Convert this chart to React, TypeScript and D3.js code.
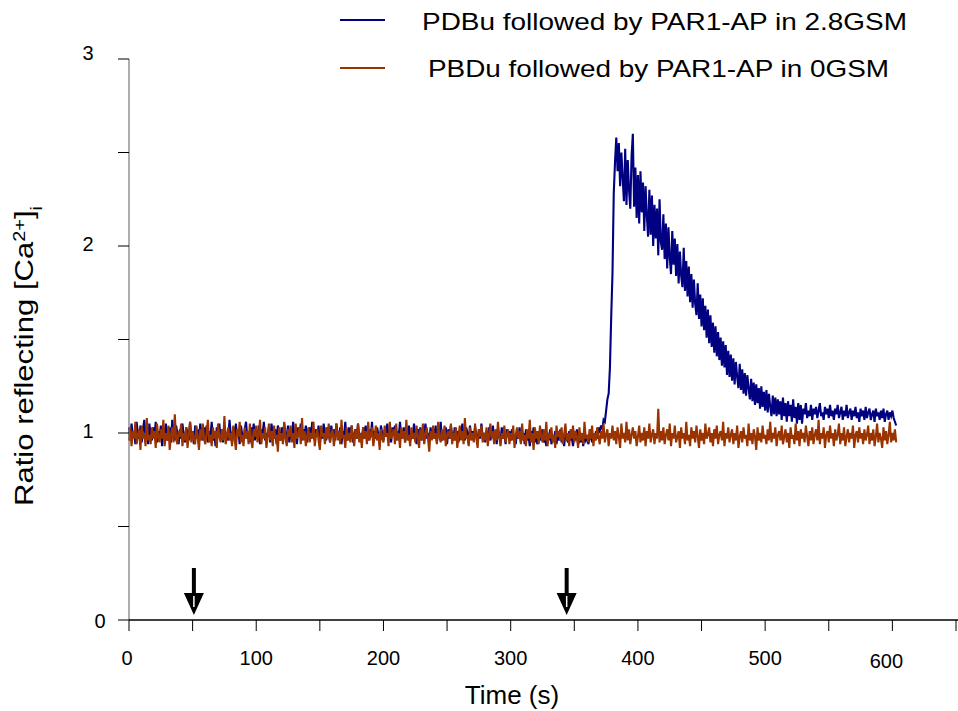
import React from "react";
import * as d3 from "d3";

const STEP = 1; // seconds between samples
const blueValues: number[] = [
  1.03,0.96,1.05,0.98,1.01,0.94,1.06,0.99,0.97,1.04,0.95,1.02,1.07,0.97,1.00,0.94,1.05,0.99,0.96,1.03,
  0.98,1.06,0.95,1.01,0.97,1.04,0.93,1.02,0.99,1.05,0.96,1.00,1.03,0.95,1.07,0.98,0.96,1.04,1.00,0.94,
  1.02,0.97,1.05,0.99,0.95,1.03,1.00,0.96,1.06,0.98,1.01,0.94,1.04,0.97,1.02,0.95,1.05,0.99,0.96,1.03,
  0.97,1.04,0.95,1.01,0.98,1.06,0.96,1.00,0.93,1.03,0.99,1.05,0.97,1.02,0.95,1.04,0.98,1.00,0.96,1.07,
  0.99,0.95,1.03,0.97,1.05,0.98,1.01,0.94,1.04,0.99,0.96,1.02,1.06,0.97,1.00,0.95,1.03,0.98,1.05,0.96,
  1.01,0.97,1.04,0.94,1.02,0.99,1.06,0.96,1.00,0.98,1.03,0.95,1.05,0.99,0.97,1.02,0.94,1.04,1.00,0.96,
  1.03,0.98,1.05,0.97,0.99,1.04,0.95,1.01,0.97,1.06,0.98,1.00,0.94,1.03,0.99,1.05,0.96,1.02,0.98,1.04,
  0.95,1.00,1.03,0.97,1.06,0.99,0.96,1.02,0.98,1.04,0.94,1.01,0.97,1.05,0.99,0.96,1.03,1.00,0.95,1.04,
  0.98,1.02,0.96,1.05,0.99,0.97,1.03,0.94,1.01,0.98,1.06,0.96,1.00,1.03,0.97,1.04,0.95,0.99,1.02,0.97,
  1.05,0.98,1.00,0.95,1.03,0.97,1.04,0.99,0.96,1.02,0.98,1.06,0.95,1.01,0.97,1.03,0.99,0.94,1.04,1.00,
  0.96,1.02,0.98,1.05,0.97,1.00,0.95,1.03,0.99,1.04,0.96,1.01,0.98,1.06,0.97,0.99,1.03,0.95,1.02,0.98,
  1.04,0.96,1.00,0.97,1.05,0.99,0.94,1.02,0.98,1.03,0.96,1.01,0.99,1.05,0.97,1.00,0.95,1.03,0.98,1.02,
  0.97,1.04,0.95,1.01,0.99,1.06,0.96,1.00,0.98,1.03,0.94,1.02,0.97,1.04,0.99,0.96,1.03,0.98,1.01,0.95,
  1.02,0.97,1.05,0.98,0.96,1.03,1.00,0.94,1.04,0.98,1.01,0.96,1.03,0.99,0.95,1.02,0.97,1.05,0.98,1.00,
  0.95,1.01,0.97,1.03,0.96,0.99,1.04,0.97,1.00,0.94,1.02,0.98,0.96,1.03,0.97,1.00,0.94,1.02,0.98,1.01,
  0.96,1.02,0.97,0.99,0.94,1.01,0.97,1.03,0.95,0.98,1.00,0.94,1.02,0.96,0.99,0.93,1.01,0.97,1.03,0.95,
  0.98,0.94,1.01,0.96,0.99,1.02,0.95,0.97,0.93,1.00,0.96,1.02,0.94,0.98,0.97,1.01,0.94,0.99,0.96,1.02,
  0.95,0.98,0.93,1.00,0.97,0.95,1.01,0.96,0.98,0.93,0.99,0.96,1.02,0.94,0.97,0.95,1.00,0.93,0.98,0.96,
  0.99,0.94,0.97,1.00,0.95,0.98,0.96,1.01,0.97,1.03,
  1.00,1.04,1.02,1.07,1.06,1.12,1.18,1.21,1.35,1.62,
  1.85,2.28,2.45,2.58,2.40,2.55,2.32,2.50,2.36,2.24,
  2.52,2.22,2.46,2.30,2.20,2.48,2.60,2.21,2.42,2.15,
  2.38,2.12,2.40,2.18,2.34,2.08,2.32,2.16,2.05,2.30,
  2.06,2.27,2.00,2.22,2.04,2.20,1.95,2.25,2.02,1.98,
  2.17,1.93,2.12,1.88,2.10,1.94,1.85,2.08,1.90,2.04,
  1.84,2.01,1.80,1.97,1.84,1.78,1.99,1.76,1.92,1.73,
  1.89,1.70,1.85,1.67,1.82,1.69,1.63,1.80,1.61,1.74,
  1.57,1.72,1.55,1.68,1.51,1.66,1.48,1.63,1.46,1.59,
  1.43,1.57,1.41,1.54,1.39,1.51,1.36,1.49,1.35,1.47,
  1.31,1.44,1.30,1.42,1.28,1.40,1.26,1.38,1.30,1.24,
  1.37,1.23,1.34,1.21,1.32,1.20,1.31,1.24,1.18,1.29,
  1.17,1.27,1.15,1.26,1.16,1.24,1.13,1.25,1.14,1.22,
  1.12,1.23,1.11,1.21,1.14,1.09,1.20,1.10,1.19,1.09,
  1.18,1.10,1.17,1.07,1.19,1.09,1.16,1.06,1.17,1.09,
  1.15,1.06,1.18,1.08,1.14,1.05,1.16,1.07,1.15,1.05,
  1.13,1.10,1.16,1.08,1.12,1.09,1.15,1.07,1.13,1.10,
  1.14,1.08,1.12,1.16,1.09,1.11,1.07,1.14,1.10,1.13,
  1.08,1.15,1.09,1.12,1.07,1.13,1.10,1.15,1.08,1.11,
  1.14,1.07,1.12,1.09,1.15,1.08,1.11,1.13,1.07,1.12,
  1.09,1.14,1.08,1.11,1.06,1.13,1.09,1.12,1.07,1.14,
  1.08,1.11,1.13,1.07,1.10,1.12,1.06,1.13,1.09,1.11,
  1.07,1.12,1.08,1.13,1.06,1.10,1.12,1.07,1.11,1.09,
  1.12,1.08,1.06,1.04,
];
const orangeValues: number[] = [
  0.96,1.03,0.93,1.01,0.97,1.06,0.94,0.99,1.02,0.91,1.04,0.97,1.00,0.93,1.08,0.96,0.99,0.94,1.03,0.97,
  1.01,0.92,1.05,0.98,0.95,1.02,0.97,1.07,0.93,1.00,0.96,1.04,0.91,0.99,1.03,0.95,1.10,0.97,0.94,1.01,
  0.98,1.05,0.93,1.00,0.96,1.03,0.92,0.99,1.06,0.95,1.01,0.97,0.94,1.04,0.98,0.91,1.02,0.96,1.05,0.97,
  0.94,1.00,1.07,0.95,0.99,0.93,1.03,0.97,1.01,0.92,1.05,0.98,0.95,1.02,0.96,1.09,0.94,0.99,1.03,0.96,
  1.00,0.93,1.04,0.97,0.91,1.02,0.98,1.06,0.95,0.99,0.93,1.03,0.97,1.01,0.94,1.05,0.96,0.92,1.02,0.98,
  1.04,0.95,0.99,1.07,0.94,1.00,0.97,1.03,0.92,0.98,1.05,0.96,1.01,0.93,1.04,0.97,0.99,0.90,1.03,0.96,
  1.00,0.94,1.06,0.97,0.93,1.02,0.98,1.04,0.95,1.00,0.92,1.05,0.97,0.99,1.03,0.94,1.08,0.96,1.01,0.93,
  0.98,1.03,0.95,1.00,0.97,1.06,0.93,0.99,1.02,0.96,0.91,1.04,0.98,1.00,0.94,1.03,0.97,1.05,0.95,0.99,
  1.02,0.93,0.98,1.05,0.96,1.01,0.94,1.07,0.97,0.99,0.92,1.03,0.96,1.00,0.95,1.04,0.98,0.93,1.02,0.97,
  1.05,0.95,1.00,0.92,1.03,0.97,1.01,0.94,1.06,0.96,0.99,1.03,0.93,0.98,1.04,0.96,1.00,0.91,1.02,0.97,
  0.95,1.04,0.98,1.00,0.93,1.06,0.97,0.99,1.02,0.94,1.05,0.96,1.00,0.92,1.03,0.97,1.01,0.95,1.07,0.96,
  0.99,0.93,1.03,0.97,1.00,0.95,1.04,0.98,0.92,1.02,0.96,1.05,0.94,0.99,1.03,0.97,0.90,1.01,0.96,1.04,
  0.97,1.00,0.94,1.06,0.98,0.95,1.02,0.96,1.04,0.93,0.99,1.01,0.97,1.05,0.94,1.00,0.96,1.03,0.92,0.98,
  1.04,0.96,1.01,0.94,1.08,0.97,0.99,0.93,1.03,0.96,1.00,0.95,1.05,0.97,0.92,1.02,0.98,1.04,0.95,1.00,
  0.96,1.03,0.93,0.99,1.05,0.97,1.01,0.94,1.02,0.96,1.06,0.98,0.93,1.00,0.97,1.04,0.95,0.99,1.02,0.94,
  1.00,0.96,1.04,0.92,0.99,1.03,0.97,1.01,0.94,1.05,0.96,0.99,0.93,1.02,0.97,1.07,0.95,1.00,0.91,1.03,
  0.97,1.01,0.94,1.04,0.98,0.95,1.02,0.96,1.06,0.93,1.00,0.97,1.03,0.95,0.99,0.92,1.04,0.98,1.01,0.96,
  1.03,0.94,0.99,1.05,0.96,1.00,0.93,1.02,0.97,1.04,0.95,1.01,0.98,0.92,1.03,0.96,1.00,0.94,1.06,0.97,
  0.99,0.95,1.02,0.97,1.04,0.93,1.00,0.96,1.03,0.98,0.94,1.01,0.97,1.05,0.95,0.99,1.02,0.93,1.00,0.97,
  1.04,0.96,1.01,0.94,1.03,0.98,0.92,1.05,0.97,1.00,0.95,1.06,0.96,1.02,0.94,0.99,1.03,0.97,1.01,0.93,
  0.98,1.04,0.95,1.00,0.96,1.03,0.93,1.01,0.97,1.05,0.95,0.99,1.02,0.94,1.00,0.97,1.13,0.95,1.01,0.96,
  1.03,0.94,0.99,1.02,0.96,1.05,0.93,1.00,0.97,1.04,0.95,0.98,1.01,0.92,1.03,0.97,1.00,0.94,1.06,0.96,
  0.99,0.93,1.03,0.97,1.01,0.95,1.04,0.98,0.92,1.02,0.96,1.00,0.94,1.05,0.97,0.99,1.03,0.95,1.00,0.93,
  1.02,0.97,1.04,0.94,0.99,1.01,0.96,1.06,0.93,1.00,0.97,1.03,0.95,0.99,1.02,0.94,1.00,0.96,1.04,0.92,
  0.98,1.01,0.95,1.03,0.97,0.99,0.93,1.05,0.96,1.00,0.94,1.02,0.98,0.91,1.03,0.96,1.00,0.95,1.04,0.97,
  0.99,0.94,1.02,0.96,1.06,0.95,1.00,0.97,1.03,0.93,0.99,1.01,0.96,1.04,0.94,0.98,1.02,0.95,1.00,0.92,
  1.03,0.97,0.99,0.94,1.05,0.96,1.01,0.93,1.02,0.97,1.00,0.95,1.04,0.98,0.93,1.01,0.96,1.03,0.94,0.99,
  1.02,0.96,1.07,0.94,1.00,0.97,1.03,0.92,0.99,1.01,0.95,1.04,0.97,1.00,0.93,1.02,0.96,0.99,1.05,0.94,
  1.00,0.96,1.03,0.93,0.98,1.02,0.95,1.00,0.97,1.04,0.92,0.99,1.01,0.95,1.03,0.97,1.00,0.94,1.02,0.96,
  0.99,1.04,0.94,1.00,0.96,1.02,0.93,0.98,1.05,0.95,1.00,0.97,0.92,1.03,0.96,1.01,0.94,0.99,1.06,0.95,
  1.00,0.96,1.02,0.95,
];
const seriesNames = ["PDBu followed by PAR1-AP in 2.8GSM", "PBDu followed by PAR1-AP in 0GSM"];
const seriesColors = ["#000080", "#993300"];
const xMajorTicks = [0, 100, 200, 300, 400, 500, 600];
const xMinorTicks = d3.range(0, 651, 50);
const yMajorTicks = [0, 1, 2, 3];
const yMinorTicks = [0, 0.5, 1, 1.5, 2, 2.5, 3];
const arrowTimes = [51, 344];

const FONT = "'Liberation Sans', Arial, Helvetica, sans-serif";

export default function App() {
  const x = d3.scaleLinear().domain([0, 650]).range([129, 956]);
  const y = d3.scaleLinear().domain([0, 3]).range([620, 59]);
  const line = d3
    .line<number>()
    .x((_, i) => x(i * STEP))
    .y((v) => y(v));
  const series = [blueValues, orangeValues];

  return (
    <svg
      width={958}
      height={711}
      style={{ position: "absolute", left: 0, top: 0, background: "#fff" }}
      fontFamily={FONT}
    >
      <rect width={958} height={711} fill="#fff" />
      {series.map((vals, k) => (
        <path key={k} d={line(vals) || ""} fill="none" stroke={seriesColors[k]} strokeWidth={2.1} strokeLinejoin="miter" />
      ))}
      {/* y axis */}
      <line x1={x(0)} x2={x(0)} y1={y(3)} y2={y(0)} stroke="#777" strokeWidth={1.2} />
      {yMinorTicks.map((t) => (
        <line key={t} x1={x(0) - 11} x2={x(0)} y1={y(t)} y2={y(t)} stroke="#000" strokeWidth={1} />
      ))}
      {yMajorTicks.map((t) => (
        <text
          key={t}
          x={t === 0 ? 100 : 88}
          y={y(t) + (t === 3 ? -6 : t === 0 ? 1 : -2)}
          textAnchor="middle"
          dominantBaseline="central"
          fontSize={20}
        >
          {t}
        </text>
      ))}
      {/* x axis */}
      <line x1={x(0)} x2={958} y1={y(0)} y2={y(0)} stroke="#000" strokeWidth={1.5} />
      {xMinorTicks.map((t) => (
        <line key={t} x1={x(t)} x2={x(t)} y1={y(0)} y2={y(0) + 11} stroke="#000" strokeWidth={1} />
      ))}
      {xMajorTicks.map((t) => (
        <text
          key={t}
          x={x(t) + (t === 0 ? -2 : t === 600 ? -6 : 0)}
          y={y(0) + (t === 600 ? 48 : 45)}
          textAnchor="middle"
          fontSize={20}
        >
          {t}
        </text>
      ))}
      {/* arrows */}
      {arrowTimes.map((t) => {
        const cx = x(t);
        return (
          <g key={t}>
            <line x1={cx} x2={cx} y1={568} y2={596} stroke="#000" strokeWidth={4} />
            <path d={`M${cx - 10},${593} L${cx + 10},${593} L${cx},${615} Z`} fill="#000" />
            <line x1={cx} x2={cx} y1={596} y2={607} stroke="#fff" strokeWidth={1.5} />
          </g>
        );
      })}
      {/* axis titles */}
      <text x={512} y={704} textAnchor="middle" fontSize={26}>
        Time (s)
      </text>
      <text
        transform={`translate(33,356) rotate(-90)`}
        textAnchor="middle"
        fontSize={25}
        textLength={300}
        lengthAdjust="spacingAndGlyphs"
      >
        Ratio reflecting [Ca
        <tspan baselineShift="super" fontSize={16}>2+</tspan>
        <tspan>]</tspan>
        <tspan baselineShift="sub" fontSize={16}>i</tspan>
      </text>
      {/* legend */}
      {seriesNames.map((name, k) => (
        <g key={name}>
          <line x1={340} x2={385} y1={k === 0 ? 20 : 68} y2={k === 0 ? 20 : 68} stroke={seriesColors[k]} strokeWidth={2} />
          <text
            x={k === 0 ? 422 : 428}
            y={k === 0 ? 30 : 77}
            fontSize={24}
            textLength={k === 0 ? 485 : 461}
            lengthAdjust="spacingAndGlyphs"
          >
            {name}
          </text>
        </g>
      ))}
    </svg>
  );
}
